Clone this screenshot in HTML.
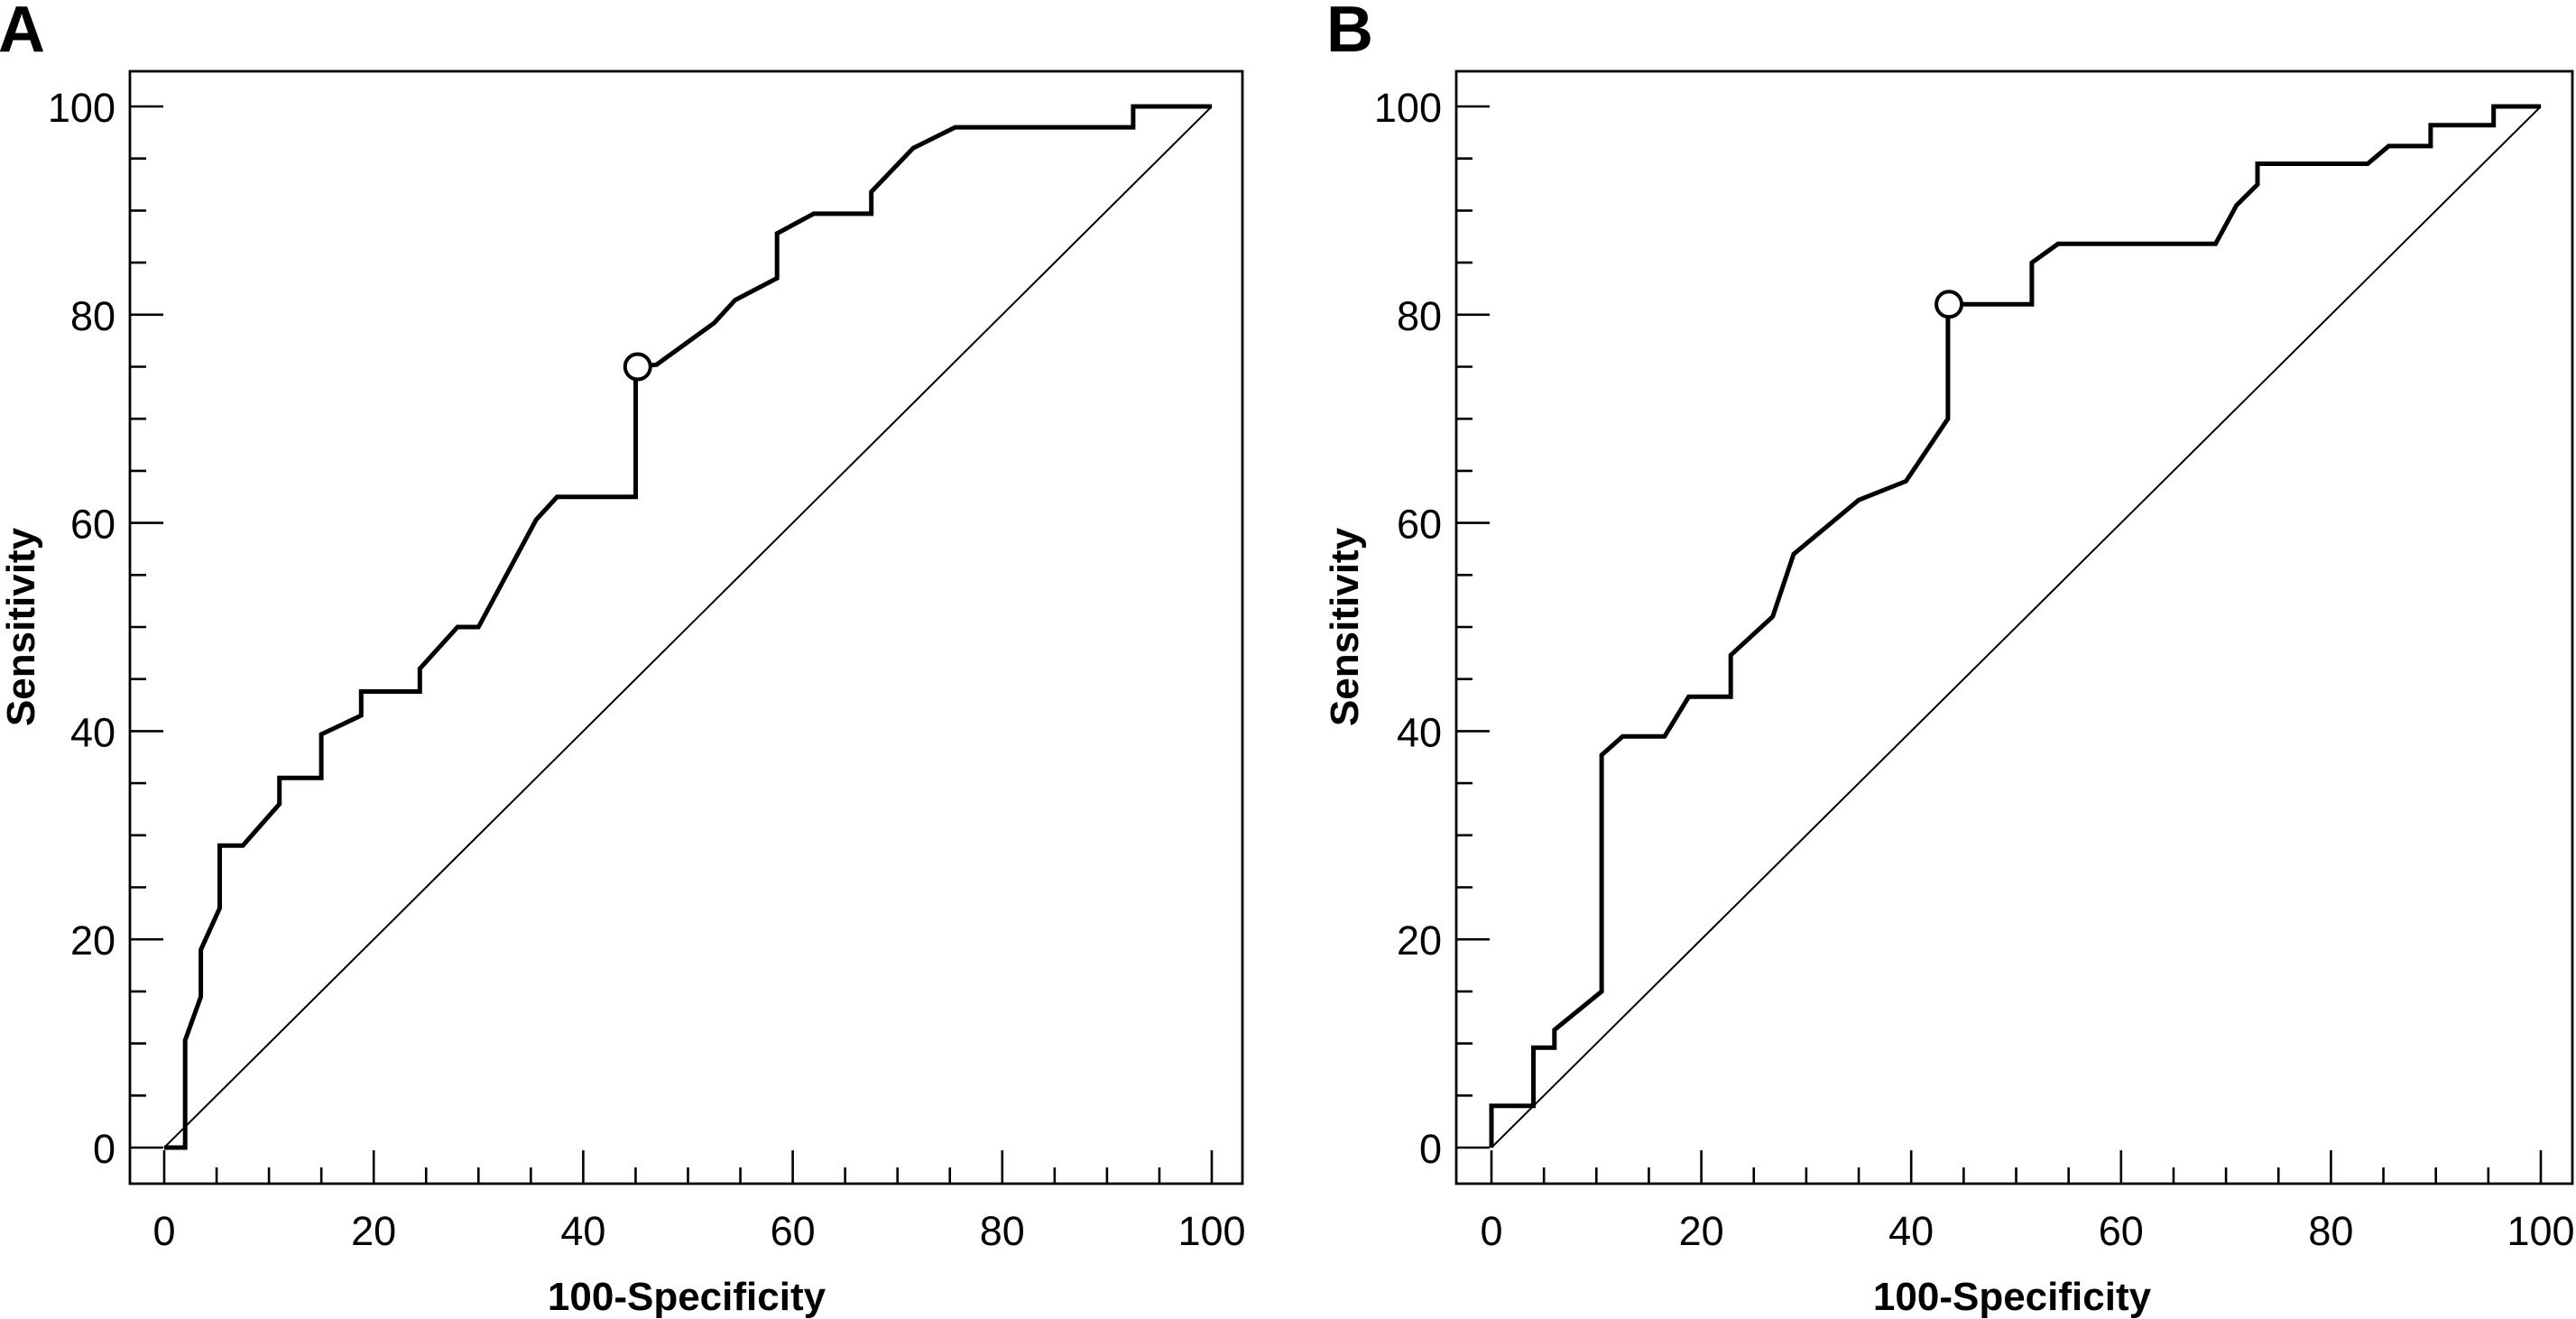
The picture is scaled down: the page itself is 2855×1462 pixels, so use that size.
<!DOCTYPE html>
<html><head><meta charset="utf-8">
<style>
html,body{margin:0;padding:0;background:#fff;}
svg{display:block;}
text{font-family:"Liberation Sans",sans-serif;fill:#000;}
</style></head>
<body>
<svg id="fig" width="2855" height="1462" viewBox="0 0 2855 1462" xmlns="http://www.w3.org/2000/svg"></svg>
<script>
// Panel A data
const fprA = [0,2,2,3.5,3.5,5.3,5.3,7.5,11,11,15,15,18.8,18.8,24.4,24.4,28,30,35.5,37.5,45,45,47,52.5,54.5,58.5,58.5,62,67.5,67.5,71.5,75.5,92.5,92.5,100];
const tprA = [0,0,10.3,14.5,19,23,29,29,33,35.5,35.5,39.7,41.5,43.8,43.8,46,50,50,60.3,62.5,62.5,75,75.2,79.2,81.4,83.5,87.8,89.7,89.7,91.8,96,98,98,100,100];
const cutA = [45.2,75];
// Panel B data
const fprB = [0,0,4,4,6,6,10.5,10.5,12.5,16.5,18.8,22.8,22.8,26.8,28.8,35,39.5,43.5,43.5,51.5,51.5,54,69,71,73,73,83.5,85.5,89.5,89.5,95.5,95.5,100];
const tprB = [0,4,4,9.6,9.6,11.3,15,37.7,39.5,39.5,43.3,43.3,47.3,51,57,62.2,64,70,81,81,85,86.8,86.8,90.5,92.5,94.5,94.5,96.2,96.2,98.2,98.2,100,100];
const cutB = [43.6,81];
const tickLabels = ["0","20","40","60","80","100"];

const NS = "http://www.w3.org/2000/svg";
const svg = document.getElementById('fig');
function mk(tag, attrs, parent){
  const e = document.createElementNS(NS, tag);
  for (const k in attrs) e.setAttribute(k, attrs[k]);
  (parent||svg).appendChild(e);
  return e;
}
function panel(cfg, fpr, tpr, cut){
  const g = mk('g', {});
  
  
  const sx = v => cfg.x0 + (cfg.x100 - cfg.x0) * v / 100;
  const sy = v => cfg.y0 + (cfg.y100 - cfg.y0) * v / 100;
  const fr = mk('rect', {x:cfg.fl, y:79, width:cfg.fr-cfg.fl, height:1312-79, fill:'none', stroke:'#000', 'stroke-width':2.8}, g);
  
  
  for (let v = 0; v <= 100; v += 5) {
    const major = v % 20 === 0;
    const L = major ? 37 : 18;
    const yt = mk('line', {x1:cfg.fl, x2:cfg.fl+L, y1:sy(v), y2:sy(v), stroke:'#000', 'stroke-width':2.6}, g);
    
    
    const xt = mk('line', {x1:sx(v), x2:sx(v), y1:1312, y2:1312-L, stroke:'#000', 'stroke-width':2.6}, g);
    
    
  }
  tickLabels.forEach((t, i) => {
    const v = i * 20;
    const yl = mk('text', {x:cfg.fl-16, y:sy(v)+17, 'font-size':45, 'text-anchor':'end'}, g);
    yl.textContent = t;
    
    
    const xl = mk('text', {x:sx(v), y:1380, 'font-size':45, 'text-anchor':'middle'}, g);
    xl.textContent = t;
    
    
  });
  const dg = mk('line', {x1:sx(0), y1:sy(0), x2:sx(100), y2:sy(100), stroke:'#000', 'stroke-width':2}, g);
  
  
  const pts = fpr.map((f, i) => sx(f).toFixed(1) + ',' + sy(tpr[i]).toFixed(1)).join(' ');
  const cv = mk('polyline', {points:pts, fill:'none', stroke:'#000', 'stroke-width':5, 'stroke-linejoin':'miter'}, g);
  
  
  const mkr = mk('circle', {cx:sx(cut[0]), cy:sy(cut[1]), r:14, fill:'#fff', stroke:'#000', 'stroke-width':4}, g);
  
  
  const xt = mk('text', {x:cfg.xtc, y:1452, 'font-size':44, 'font-weight':'bold', 'text-anchor':'middle'}, g);
  xt.textContent = '100-Specificity';
  
  
  const yt = mk('text', {x:0, y:0, 'font-size':44, 'font-weight':'bold', 'text-anchor':'middle', transform:'translate(' + cfg.ytx + ',695) rotate(-90)'}, g);
  yt.textContent = 'Sensitivity';
  
  
  const lt = mk('text', {x:cfg.lx, y:57, 'font-size':72, 'font-weight':'bold'}, g);
  lt.textContent = cfg.id;
  
  
}
panel({id:'A', fl:144, fr:1377, x0:182, x100:1343, y0:1272, y100:118, xtc:761, ytx:38, lx:-2}, fprA, tprA, cutA);
panel({id:'B', fl:1614, fr:2851, x0:1653, x100:2816, y0:1272, y100:118, xtc:2230, ytx:1505, lx:1470}, fprB, tprB, cutB);
</script>
</body></html>
